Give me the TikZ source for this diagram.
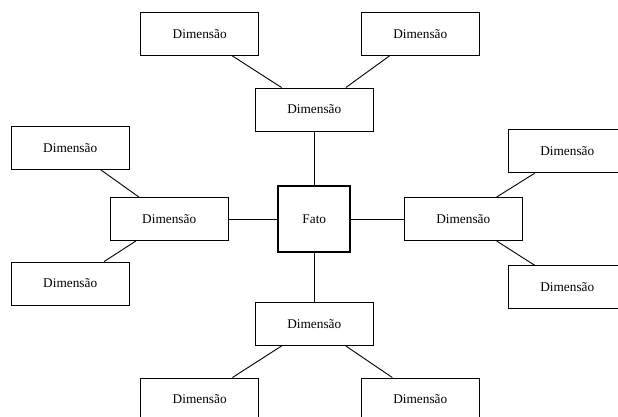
\documentclass[tikz,border=0pt]{standalone}
\usepackage{fontspec}
\setmainfont{Liberation Serif}
\usetikzlibrary{calc}
\tikzset{
  dimbox/.style={draw=black, line width=0.9pt, minimum width=118pt, minimum height=43pt,
                 inner sep=0pt, font=\fontsize{13.3}{16}\selectfont},
  factbox/.style={draw=black, line width=1.8pt, minimum width=72pt, minimum height=66pt,
                 inner sep=0pt, font=\fontsize{13.3}{16}\selectfont},
  link/.style={draw=black, line width=0.9pt}
}
\begin{document}
\begin{tikzpicture}[x=1pt, y=-1pt]
  \useasboundingbox (0,0) rectangle (618,416);
  % central fact table
  \node[factbox] (f) at (314.3,219) {Fato};
  % first-level dimensions
  \node[dimbox] (t) at (314.3,109.5) {Dimensão};
  \node[dimbox] (l) at (169.2,219) {Dimensão};
  \node[dimbox] (r) at (463.3,219) {Dimensão};
  \node[dimbox] (b) at (314.3,324) {Dimensão};
  % second-level dimensions
  \node[dimbox] (tl) at (199.7,34) {Dimensão};
  \node[dimbox] (tr) at (420.3,34) {Dimensão};
  \node[dimbox] (lt) at (70.2,147.7) {Dimensão};
  \node[dimbox] (lb) at (70.2,283.5) {Dimensão};
  \node[dimbox] (rt) at (567.3,151.3) {Dimensão};
  \node[dimbox] (rb) at (567.3,287.2) {Dimensão};
  \node[dimbox] (bl) at (199.7,399.5) {Dimensão};
  \node[dimbox] (br) at (420.3,399.5) {Dimensão};
  % fact to first level
  \draw[link] (f.north) -- (t.south);
  \draw[link] (f.south) -- (b.north);
  \draw[link] (f.west) -- (l.east);
  \draw[link] (f.east) -- (r.east -| r.west);
  % first level to second level
  \draw[link] ($(tl.south west)!0.775!(tl.south east)$) -- ($(t.north west)!0.225!(t.north east)$);
  \draw[link] ($(tr.south west)!0.24!(tr.south east)$) -- ($(t.north west)!0.765!(t.north east)$);
  \draw[link] ($(lt.south west)!0.755!(lt.south east)$) -- ($(l.north west)!0.245!(l.north east)$);
  \draw[link] ($(l.south west)!0.22!(l.south east)$) -- ($(lb.north west)!0.785!(lb.north east)$);
  \draw[link] ($(rt.south west)!0.225!(rt.south east)$) -- ($(r.north west)!0.78!(r.north east)$);
  \draw[link] ($(r.south west)!0.78!(r.south east)$) -- ($(rb.north west)!0.225!(rb.north east)$);
  \draw[link] ($(b.south west)!0.225!(b.south east)$) -- ($(bl.north west)!0.775!(bl.north east)$);
  \draw[link] ($(b.south west)!0.765!(b.south east)$) -- ($(br.north west)!0.265!(br.north east)$);
\end{tikzpicture}
\end{document}
